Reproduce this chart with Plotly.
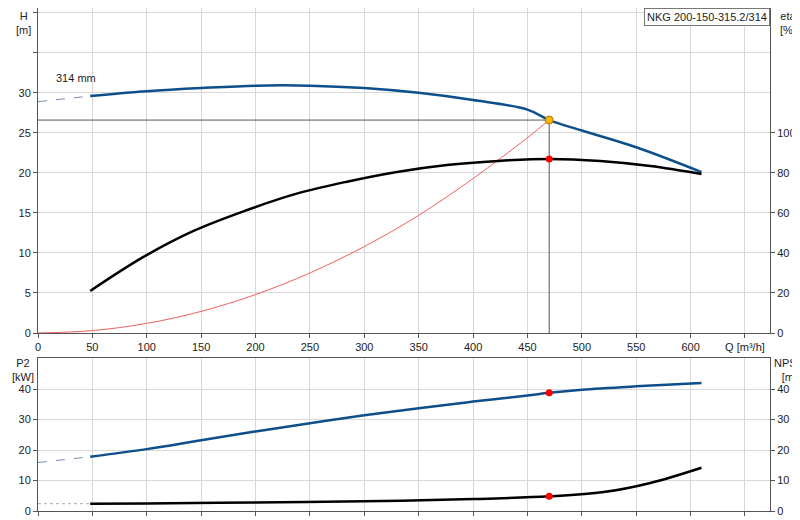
import plotly.graph_objects as go

q_h = [48, 100, 150, 200, 250, 300, 350, 400, 450, 470, 500, 550, 610]
h_vals = [29.6, 30.2, 30.6, 30.9, 30.9, 30.6, 30.0, 29.1, 27.9, 26.6, 25.3, 23.2, 20.1]
q_h_ext = [0, 48]
h_ext = [28.9, 29.6]

q_eta = [48, 97, 143, 190, 237, 283, 330, 376, 423, 470, 517, 563, 610]
eta_vals = [21, 38, 51, 61, 69.5, 75.5, 80.5, 84, 86, 87, 86, 83.5, 79.5]

q_sys = [0, 50, 100, 150, 200, 250, 300, 350, 400, 450, 470]
h_sys = [0, 0.3, 1.2, 2.7, 4.8, 7.5, 10.8, 14.7, 19.3, 24.4, 26.6]

q_p2 = [48, 100, 150, 200, 250, 300, 350, 400, 450, 470, 500, 550, 610]
p2_vals = [17.8, 20.3, 23.2, 26.1, 28.8, 31.4, 33.7, 35.9, 37.9, 38.8, 39.8, 40.9, 42.0]
p2_ext = [15.9, 17.8]

q_npsh = [48, 100, 200, 300, 400, 470, 520, 563, 610]
npsh_vals = [2.4, 2.5, 2.8, 3.2, 3.9, 4.8, 6.2, 9.2, 14.2]
npsh_ext = [2.4, 2.4]

q_op, h_op, eta_op, p2_op, npsh_op = 470, 26.6, 87, 38.8, 4.8

x_ticks = [0, 50, 100, 150, 200, 250, 300, 350, 400, 450, 500, 550, 600, 650]
x_labels = [str(v) for v in x_ticks[:-1]] + ["Q [m³/h]"]

blue = "#0d4f8b"
fig = go.Figure()
fig.add_trace(go.Scatter(x=q_h_ext, y=h_ext, mode="lines", line=dict(color="#7a8fb0", width=1, dash="dash"), xaxis="x", yaxis="y"))
fig.add_trace(go.Scatter(x=q_h, y=h_vals, mode="lines", line=dict(color=blue, width=2.5, shape="spline"), xaxis="x", yaxis="y"))
fig.add_trace(go.Scatter(x=[0, q_op, q_op], y=[h_op, h_op, 0], mode="lines", line=dict(color="#555", width=1), xaxis="x", yaxis="y"))
fig.add_trace(go.Scatter(x=q_sys, y=h_sys, mode="lines", line=dict(color="#f06060", width=1, shape="spline"), xaxis="x", yaxis="y"))
fig.add_trace(go.Scatter(x=q_eta, y=eta_vals, mode="lines", line=dict(color="black", width=2.5, shape="spline"), xaxis="x", yaxis="y2"))
fig.add_trace(go.Scatter(x=[q_op], y=[eta_op], mode="markers", marker=dict(color="red", size=7), xaxis="x", yaxis="y2"))
fig.add_trace(go.Scatter(x=[q_op], y=[h_op], mode="markers", marker=dict(color="#f5b800", size=8, line=dict(color="#c07000", width=1)), xaxis="x", yaxis="y"))
fig.add_trace(go.Scatter(x=q_h_ext, y=p2_ext, mode="lines", line=dict(color="#7a8fb0", width=1, dash="dash"), xaxis="x2", yaxis="y3"))
fig.add_trace(go.Scatter(x=q_p2, y=p2_vals, mode="lines", line=dict(color=blue, width=2.5, shape="spline"), xaxis="x2", yaxis="y3"))
fig.add_trace(go.Scatter(x=q_h_ext, y=npsh_ext, mode="lines", line=dict(color="#aaa", width=1, dash="dot"), xaxis="x2", yaxis="y4"))
fig.add_trace(go.Scatter(x=q_npsh, y=npsh_vals, mode="lines", line=dict(color="black", width=2.5, shape="spline"), xaxis="x2", yaxis="y4"))
fig.add_trace(go.Scatter(x=[q_op], y=[p2_op], mode="markers", marker=dict(color="red", size=7), xaxis="x2", yaxis="y3"))
fig.add_trace(go.Scatter(x=[q_op], y=[npsh_op], mode="markers", marker=dict(color="red", size=7), xaxis="x2", yaxis="y4"))

H = 503
top_lo = (H - 325) / H
bot_hi = (H - 350) / H
ax = dict(showline=True, linecolor="#555", linewidth=1, mirror=True, gridcolor="#d8d8d8",
          zeroline=False, ticks="outside", ticklen=4, tickcolor="#555", automargin=False,
          tickfont=dict(family="Liberation Sans, Arial", size=11, color="#222"))
fig.update_layout(
    width=800, height=520, margin=dict(l=30, r=38, t=0, b=17, autoexpand=False),
    paper_bgcolor="white", plot_bgcolor="white", showlegend=False,
    font=dict(family="Liberation Sans, Arial", size=11, color="#222"),
    xaxis=dict(ax, range=[0, 673], tickvals=x_ticks, ticktext=x_labels, domain=[0, 1], anchor="y"),
    xaxis2=dict(ax, range=[0, 673], tickvals=x_ticks, showticklabels=False, domain=[0, 1], anchor="y3"),
    yaxis=dict(ax, range=[0, 40.6], tickvals=[0, 5, 10, 15, 20, 25, 30, 35, 40],
               ticktext=["0", "5", "10", "15", "20", "25", "30", "", ""], domain=[top_lo, 1]),
    yaxis2=dict(ax, range=[0, 162.4], tickvals=[0, 20, 40, 60, 80, 100], overlaying="y", side="right",
                showgrid=False, anchor="x"),
    yaxis3=dict(ax, range=[0, 50.2], tickvals=[0, 10, 20, 30, 40], domain=[0, bot_hi], anchor="x2"),
    yaxis4=dict(ax, range=[0, 50.2], tickvals=[0, 10, 20, 30, 40], overlaying="y3", side="right",
                showgrid=False, anchor="x2"),
)
ann = [
    dict(text="H<br>[m]", x=-0.02, y=1.0, xanchor="center", yanchor="top"),
    dict(text="eta<br>[%]", x=1.025, y=1.0, xanchor="center", yanchor="top"),
    dict(text="P2<br>[kW]", x=-0.02, y=bot_hi + 0.005, xanchor="center", yanchor="top"),
    dict(text="NPSH<br>[m]", x=1.027, y=bot_hi + 0.005, xanchor="center", yanchor="top"),
]
for a in ann:
    fig.add_annotation(xref="paper", yref="paper", showarrow=False, align="center", **a)
fig.add_annotation(xref="x", yref="y", x=15, y=30.9, text="314 mm", showarrow=False, xanchor="left", yanchor="bottom")
fig.add_annotation(xref="paper", yref="paper", x=1, y=1, text="NKG 200-150-315.2/314", showarrow=False,
                   xanchor="right", yanchor="top", bordercolor="#777", borderwidth=1, borderpad=2, bgcolor="white")
fig.write_html("out.html")
